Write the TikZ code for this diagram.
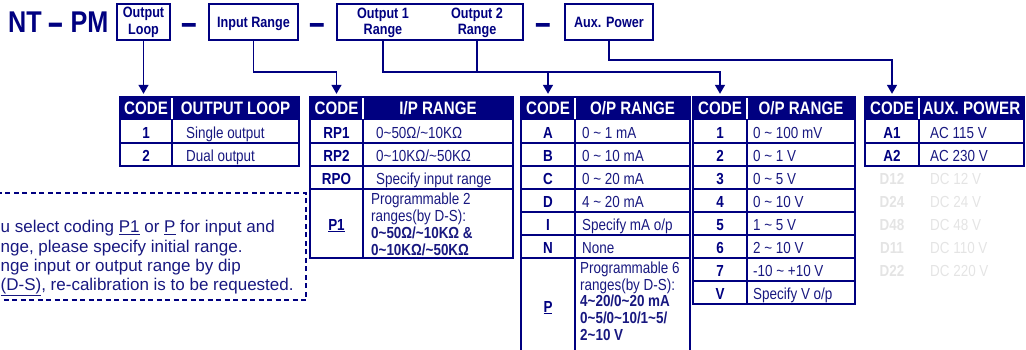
\documentclass[tikz,border=0pt]{standalone}
\usepackage{fontspec}
\usepackage{graphicx}
\setmainfont{Liberation Sans}
\newfontfamily\nf{Liberation Sans}[FakeStretch=0.84]
\usetikzlibrary{arrows.meta}
\definecolor{nv}{RGB}{0,0,128}
\definecolor{txt}{RGB}{24,24,128}
\definecolor{ghost}{RGB}{228,228,228}
\newcommand\tld{\textasciitilde}
\newcommand\tframe[5]{%
  \draw[rline] (#2,120) -- (#2,#4);
  \foreach \yy in {#5} {\draw[rline] (#1,\yy) -- (#3,\yy);}
  \draw[tline] (#1,97) rectangle (#3,#4);
  \draw[white, line width=1.2pt] (#2,98.2) -- (#2,119.2);
}
\tikzset{
  tline/.style={draw=nv, line width=2.4pt},
  rline/.style={draw=nv, line width=1.8pt},
  conn/.style={draw=nv, line width=1.5pt},
  arr/.style={conn, -{Triangle[width=10pt,length=9pt]}, shorten >=3pt},
  topbox/.style={draw=nv, line width=2pt, inner sep=0pt, text=nv, align=center,
    font=\nf\bfseries\fontsize{15}{16.7}\selectfont},
  onebox/.style={topbox, text height=10.7pt, text depth=0pt},
  boxtxt/.style={inner sep=0pt, text=nv, align=center, font=\nf\bfseries\fontsize{15}{16.7}\selectfont},
  hdr/.style={fill=nv, text=white, inner sep=0pt, minimum height=23pt, text height=12.9pt, text depth=0pt,
    font=\nf\bfseries\fontsize{18}{20}\selectfont},
  code/.style={anchor=base, inner sep=0pt, text=nv, font=\nf\bfseries\fontsize{16}{17}\selectfont},
  body/.style={anchor=base west, inner sep=0pt, text=txt, font=\nf\fontsize{16}{17}\selectfont},
  bodyb/.style={anchor=base west, inner sep=0pt, text=txt, font=\nf\bfseries\fontsize{16}{17}\selectfont},
  ghostc/.style={code, text=ghost},
  ghostt/.style={body, text=ghost},
  note/.style={anchor=base west, inner sep=0pt, text=txt, font=\fontsize{17}{19.5}\selectfont},
  dashsign/.style={anchor=base, inner sep=0pt, text=nv, font=\bfseries\fontsize{28}{28}\selectfont},
}
\begin{document}
\begin{tikzpicture}[x=1pt,y=-1pt]
\useasboundingbox (0,0) rectangle (1026,349);
\clip (0,0) rectangle (1026,349);

% title and code boxes
\node[anchor=base west, inner sep=0pt, text=nv, font=\nf\bfseries\fontsize{30}{30}\selectfont] (title) at (8,32) {NT \raisebox{-4.5pt}{\scalebox{1.05}[1.4]{–}} PM};
\node[topbox, minimum width=53pt, minimum height=36pt] (bol) at (143.5,22) {Output\\Loop};
\node[dashsign] (d1) at (189,35.5) {\scalebox{1}[1.35]{–}};
\node[onebox, minimum width=89pt, minimum height=36pt] (bir) at (253.5,22) {Input Range};
\node[dashsign] (d2) at (317.5,35.5) {\scalebox{1}[1.35]{–}};
\node[topbox, minimum width=186pt, minimum height=36pt] (bo) at (430,22) {};
\node[boxtxt] (o1) at (383,22.7) {Output 1\\Range};
\node[boxtxt] (o2) at (477,22.7) {Output 2\\Range};
\node[dashsign] (d3) at (543.5,35.5) {\scalebox{1}[1.35]{–}};
\node[onebox, minimum width=88pt, minimum height=36pt] (bax) at (609,22) {Aux. Power};

% table headers
\node[hdr, minimum width=52pt] (h1c) at (146,108.5) {CODE};
\node[hdr, minimum width=127pt] (h1t) at (235.5,108.5) {OUTPUT LOOP};
\node[hdr, minimum width=53pt] (h2c) at (336.5,108.5) {CODE};
\node[hdr, minimum width=150pt] (h2t) at (438,108.5) {I/P RANGE};
\node[hdr, minimum width=54pt] (h3c) at (548,108.5) {CODE};
\node[hdr, minimum width=115pt] (h3t) at (632.5,108.5) {O/P RANGE};
\node[hdr, minimum width=54pt] (h4c) at (720,108.5) {CODE};
\node[hdr, minimum width=108pt] (h4t) at (801,108.5) {O/P RANGE};
\node[hdr, minimum width=54pt] (h5c) at (892,108.5) {CODE};
\node[hdr, minimum width=105pt] (h5t) at (971.5,108.5) {AUX. POWER};

% table frames
\tframe{120}{172}{299}{166}{143}
\tframe{310}{363}{513}{258}{143,166,189}
\tframe{521}{575}{690}{362}{143,166,189,212,235,258}
\tframe{693}{747}{855}{304}{143,166,189,212,235,258,281}
\tframe{865}{919}{1024}{166}{143}

% connectors
\coordinate (jy) at (0,72);
\coordinate (ky) at (0,60);
\draw[arr] (bol.south) -- (bol.south |- h1c.north);
\draw[arr] (bir.south) |- (h2c.north |- jy) -- (h2c.north);
\draw[arr] (o1 |- bo.south) |- (h4c.north |- jy) -- (h4c.north);
\draw[conn] (o2 |- bo.south) -- (o2 |- jy);
\draw[arr] (h3c.north |- jy) -- (h3c.north);
\draw[arr] (bax.south) |- (h5c.north |- ky) -- (h5c.north);

% table 1
\node[code] (t1a) at (146,138) {1};
\node[body] (t1at) at (186,138) {Single output};
\node[code] (t1b) at (146,161) {2};
\node[body] (t1bt) at (186,161) {Dual output};

% table 2
\node[code] (t2a) at (336.5,138) {RP1};
\node[body] (t2at) at (376,138) {0\tld50Ω/\tld10KΩ};
\node[code] (t2b) at (336.5,161) {RP2};
\node[body] (t2bt) at (376,161) {0\tld10KΩ/\tld50KΩ};
\node[code] (t2c) at (336.5,184) {RPO};
\node[body] (t2ct) at (376,184) {Specify input range};
\node[code] (t2d) at (336.5,230) {\underline{P1}};
\node[body] (t2d1) at (371,204) {Programmable 2};
\node[body] (t2d2) at (371,221) {ranges(by D-S):};
\node[bodyb] (t2d3) at (371,238) {0\tld50Ω/\tld10KΩ \&};
\node[bodyb] (t2d4) at (371,255) {0\tld10KΩ/\tld50KΩ};

% table 3
\node[code] (t3a) at (548,138) {A};
\node[body] (t3at) at (582,138) {0 \tld{} 1 mA};
\node[code] (t3b) at (548,161) {B};
\node[body] (t3bt) at (582,161) {0 \tld{} 10 mA};
\node[code] (t3c) at (548,184) {C};
\node[body] (t3ct) at (582,184) {0 \tld{} 20 mA};
\node[code] (t3d) at (548,207) {D};
\node[body] (t3dt) at (582,207) {4 \tld{} 20 mA};
\node[code] (t3e) at (548,230) {I};
\node[body] (t3et) at (582,230) {Specify mA o/p};
\node[code] (t3f) at (548,253) {N};
\node[body] (t3ft) at (582,253) {None};
\node[code] (t3g) at (548,312) {\underline{P}};
\node[body] (t3g1) at (580,273.3) {Programmable 6};
\node[body] (t3g2) at (580,290) {ranges(by D-S):};
\node[bodyb] (t3g3) at (580,306.7) {4\tld20/0\tld20 mA};
\node[bodyb] (t3g4) at (580,323.3) {0\tld5/0\tld10/1\tld5/};
\node[bodyb] (t3g5) at (580,340) {2\tld10 V};

% table 4
\node[code] (t4a) at (720,138) {1};
\node[body] (t4at) at (753,138) {0 \tld{} 100 mV};
\node[code] (t4b) at (720,161) {2};
\node[body] (t4bt) at (753,161) {0 \tld{} 1 V};
\node[code] (t4c) at (720,184) {3};
\node[body] (t4ct) at (753,184) {0 \tld{} 5 V};
\node[code] (t4d) at (720,207) {4};
\node[body] (t4dt) at (753,207) {0 \tld{} 10 V};
\node[code] (t4e) at (720,230) {5};
\node[body] (t4et) at (753,230) {1 \tld{} 5 V};
\node[code] (t4f) at (720,253) {6};
\node[body] (t4ft) at (753,253) {2 \tld{} 10 V};
\node[code] (t4g) at (720,276) {7};
\node[body] (t4gt) at (753,276) {-10 \tld{} +10 V};
\node[code] (t4h) at (720,299) {V};
\node[body] (t4ht) at (753,299) {Specify V o/p};

% table 5
\node[code] (t5a) at (892,138) {A1};
\node[body] (t5at) at (930,138) {AC 115 V};
\node[code] (t5b) at (892,161) {A2};
\node[body] (t5bt) at (930,161) {AC 230 V};
\node[ghostc] (t5c) at (892,184) {D12};
\node[ghostt] (t5ct) at (930,184) {DC 12 V};
\node[ghostc] (t5d) at (892,207) {D24};
\node[ghostt] (t5dt) at (930,207) {DC 24 V};
\node[ghostc] (t5e) at (892,230) {D48};
\node[ghostt] (t5et) at (930,230) {DC 48 V};
\node[ghostc] (t5f) at (892,253) {D11};
\node[ghostt] (t5ft) at (930,253) {DC 110 V};
\node[ghostc] (t5g) at (892,276) {D22};
\node[ghostt] (t5gt) at (930,276) {DC 220 V};

% note box
\node[draw=nv, line width=1.5pt, dash pattern=on 5pt off 3.5pt, inner sep=0pt,
  minimum width=311pt, minimum height=107pt] (notebox) at (150.5,246.5) {};
\node[note] (n1) at (0.5,232.5) {u select coding \underline{P1} or \underline{P} for input and};
\node[note] (n2) at (0.5,252) {nge, please specify initial range.};
\node[note] (n3) at (0.5,271) {nge input or output range by dip};
\node[note] (n4) at (0.5,290.5) {\underline{(D-S)}, re-calibration is to be requested.};
\end{tikzpicture}
\end{document}
